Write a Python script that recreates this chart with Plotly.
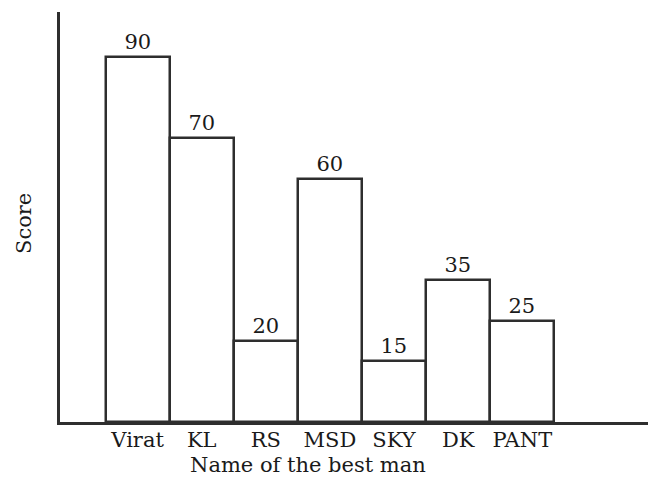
import plotly.graph_objects as go

names = ["Virat", "KL", "RS", "MSD", "SKY", "DK", "PANT"]
scores = [90, 70, 20, 60, 15, 35, 25]
x_title = "Name of the best man"
y_title = "Score"

FONT = "DejaVu Serif"
INK = "#2e2e2e"
TXT = "#1a1a1a"

# the page body has an 8px margin, so the figure is 8px smaller
W, H = 648, 469

fig = go.Figure(
    go.Bar(
        x=names,
        y=scores,
        text=[str(v) for v in scores],
        textposition="outside",
        cliponaxis=False,
        textfont=dict(family=FONT, size=21, color=TXT),
        marker=dict(color="white", line=dict(color=INK, width=2.5)),
        width=1.0,
    )
)

fig.update_layout(
    width=W,
    height=H,
    margin=dict(l=52, r=1, t=4, b=55, autoexpand=False),
    paper_bgcolor="white",
    plot_bgcolor="white",
    showlegend=False,
    bargap=0,
    font=dict(family=FONT, size=21, color=TXT),
    uniformtext=dict(minsize=21, mode="show"),
    annotations=[
        dict(
            text=x_title, xref="paper", yref="paper", x=0.416, y=0,
            xanchor="center", yanchor="top", yshift=-29, showarrow=False,
            font=dict(family=FONT, size=21, color=TXT),
        ),
        dict(
            text=y_title, xref="paper", yref="paper", x=0, y=0.483,
            xanchor="center", yanchor="middle", xshift=-36, textangle=-90,
            showarrow=False, font=dict(family=FONT, size=21, color=TXT),
        ),
    ],
)
fig.update_xaxes(
    type="category",
    range=[-1.21, 8.07],
    automargin=False,
    showline=True,
    linecolor=INK,
    linewidth=2.5,
    showgrid=False,
    ticks="",
    ticklen=0,
    ticklabelstandoff=-3,
    tickfont=dict(family=FONT, size=21, color=TXT),
    zeroline=False,
)
fig.update_yaxes(
    range=[0, 101.1],
    automargin=False,
    showline=True,
    linecolor=INK,
    linewidth=2.5,
    showgrid=False,
    showticklabels=False,
    ticks="",
    zeroline=False,
)

fig.write_html("out.html")
